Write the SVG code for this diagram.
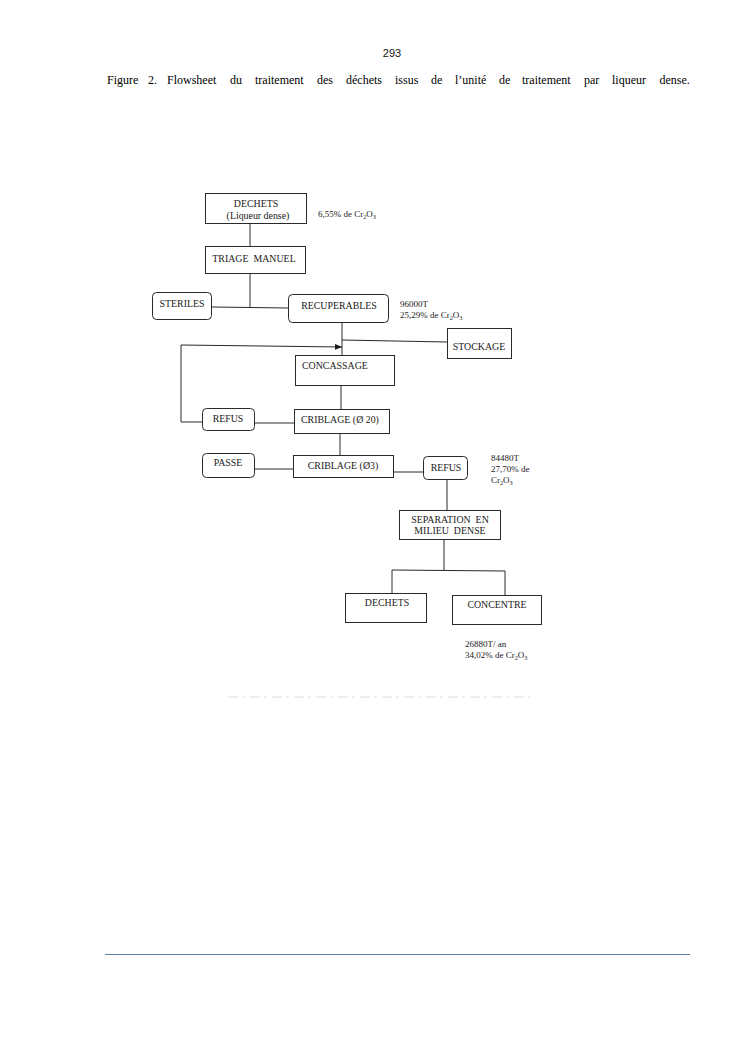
<svg xmlns="http://www.w3.org/2000/svg" width="745" height="1053" viewBox="0 0 745 1053">
<style>
  .box { fill: #ffffff; stroke: #2a2a2a; stroke-width: 1; }
  .lbl { font-family: "Liberation Serif", "Times New Roman", serif; font-size: 9.9px; fill: #1a1a1a; }
  .mid { text-anchor: middle; }
  .note { font-family: "Liberation Serif", "Times New Roman", serif; font-size: 9px; fill: #1a1a1a; }
  .sub { font-size: 6.2px; }
  .cap { font-family: "Liberation Serif", "Times New Roman", serif; font-size: 12px; fill: #000000; }
  .conn { fill: none; stroke: #2a2a2a; stroke-width: 1; }
</style>
<defs>
  <marker id="arrow" viewBox="0 0 10 10" refX="10" refY="5" markerWidth="7" markerHeight="7" orient="auto" markerUnits="userSpaceOnUse">
    <path d="M0,1 L10,5 L0,9 Z" fill="#1a1a1a"/>
  </marker>
</defs>
<rect x="0" y="0" width="745" height="1053" fill="#ffffff"/>

<g id="header">
  <text x="392" y="57" font-family="'Liberation Sans', Arial, sans-serif" font-size="11" text-anchor="middle" fill="#111">293</text>
  <text class="cap" y="84">
    <tspan x="107">Figure</tspan>
    <tspan x="148">2.</tspan>
    <tspan x="167">Flowsheet</tspan>
    <tspan x="230">du</tspan>
    <tspan x="255">traitement</tspan>
    <tspan x="317">des</tspan>
    <tspan x="346">déchets</tspan>
    <tspan x="395">issus</tspan>
    <tspan x="431">de</tspan>
    <tspan x="455">l’unité</tspan>
    <tspan x="499">de</tspan>
    <tspan x="522">traitement</tspan>
    <tspan x="584">par</tspan>
    <tspan x="612">liqueur</tspan>
    <tspan x="659.5">dense.</tspan>
  </text>
</g>

<g id="connectors">
  <path class="conn" d="M250,224 L250,246"/>
  <path class="conn" d="M250,273 L250,308"/>
  <path class="conn" d="M212,307 L288,308"/>
  <path class="conn" d="M342,322 L342,355"/>
  <path class="conn" d="M447,342 L342,340"/>
  <path class="conn" d="M202,422 L181,422 L181,345 L342,347" marker-end="url(#arrow)"/>
  <path class="conn" d="M341,385 L341,409"/>
  <path class="conn" d="M255,423 L294,423"/>
  <path class="conn" d="M340,433 L340,455"/>
  <path class="conn" d="M255,469 L293,469"/>
  <path class="conn" d="M394,472 L423,472"/>
  <path class="conn" d="M447,479 L447,510"/>
  <path class="conn" d="M444,539 L444,570"/>
  <path class="conn" d="M392,570 L505,571"/>
  <path class="conn" d="M392,570 L392,593"/>
  <path class="conn" d="M505,571 L505,595"/>
</g>

<g id="n-dechets">
  <rect class="box" x="205.5" y="193.5" width="101" height="30"/>
  <text class="lbl mid" x="256" y="207">DECHETS</text>
  <text class="lbl mid" x="258" y="219">(Liqueur dense)</text>
</g>
<g id="note-dechets">
  <text class="note" x="318" y="217">6,55% de Cr<tspan class="sub" dy="2">2</tspan><tspan dy="-2">O</tspan><tspan class="sub" dy="2">3</tspan></text>
</g>

<g id="n-triage">
  <rect class="box" x="205.5" y="246.5" width="100" height="27"/>
  <text class="lbl mid" x="254" y="262">TRIAGE&#160; MANUEL</text>
</g>

<g id="n-steriles">
  <rect class="box" x="152.5" y="292.5" width="59" height="27" rx="4"/>
  <text class="lbl mid" x="182" y="307">STERILES</text>
</g>

<g id="n-recuperables">
  <rect class="box" x="288.5" y="294.5" width="100" height="28" rx="4"/>
  <text class="lbl mid" x="339" y="309">RECUPERABLES</text>
</g>
<g id="note-recuperables">
  <text class="note" x="400" y="307">96000T</text>
  <text class="note" x="400" y="318">25,29% de Cr<tspan class="sub" dy="2">2</tspan><tspan dy="-2">O</tspan><tspan class="sub" dy="2">3</tspan></text>
</g>

<g id="n-stockage">
  <rect class="box" x="447.5" y="328.5" width="64" height="30"/>
  <text class="lbl mid" x="479" y="350">STOCKAGE</text>
</g>

<g id="n-concassage">
  <rect class="box" x="295.5" y="355.5" width="99" height="30"/>
  <text class="lbl" x="302" y="369">CONCASSAGE</text>
</g>

<g id="n-refus1">
  <rect class="box" x="202.5" y="408.5" width="52" height="22" rx="4"/>
  <text class="lbl mid" x="228" y="422">REFUS</text>
</g>

<g id="n-criblage20">
  <rect class="box" x="294.5" y="409.5" width="95" height="24"/>
  <text class="lbl" x="301" y="423">CRIBLAGE (Ø 20)</text>
</g>

<g id="n-passe">
  <rect class="box" x="202.5" y="453.5" width="52" height="24" rx="4"/>
  <text class="lbl mid" x="228" y="466">PASSE</text>
</g>

<g id="n-criblage3">
  <rect class="box" x="293.5" y="455.5" width="100" height="22"/>
  <text class="lbl mid" x="343" y="469">CRIBLAGE (Ø3)</text>
</g>

<g id="n-refus2">
  <rect class="box" x="423.5" y="456.5" width="44" height="23" rx="4"/>
  <text class="lbl mid" x="446" y="471">REFUS</text>
</g>
<g id="note-refus2">
  <text class="note" x="491" y="461">84480T</text>
  <text class="note" x="491" y="472">27,70% de</text>
  <text class="note" x="491" y="483">Cr<tspan class="sub" dy="2">2</tspan><tspan dy="-2">O</tspan><tspan class="sub" dy="2">3</tspan></text>
</g>

<g id="n-separation">
  <rect class="box" x="399.5" y="510.5" width="101" height="29"/>
  <text class="lbl mid" x="450" y="523">SEPARATION&#160; EN</text>
  <text class="lbl mid" x="450" y="534">MILIEU&#160; DENSE</text>
</g>

<g id="n-dechets2">
  <rect class="box" x="345.5" y="593.5" width="81" height="29"/>
  <text class="lbl mid" x="387" y="606">DECHETS</text>
</g>

<g id="n-concentre">
  <rect class="box" x="452.5" y="595.5" width="89" height="29"/>
  <text class="lbl mid" x="497" y="608">CONCENTRE</text>
</g>
<g id="note-concentre">
  <text class="note" x="465" y="647">26880T/ an</text>
  <text class="note" x="465" y="658">34,02% de Cr<tspan class="sub" dy="2">2</tspan><tspan dy="-2">O</tspan><tspan class="sub" dy="2">3</tspan></text>
</g>

<g id="scan-artifact">
  <path d="M228,697 L530,697" stroke="#dcdcdc" stroke-width="1" stroke-dasharray="10 4 3 5" fill="none"/>
</g>

<g id="footer">
  <path d="M105,954.5 L690,954.5" stroke="#5b7fa3" stroke-width="1" fill="none"/>
</g>
</svg>
